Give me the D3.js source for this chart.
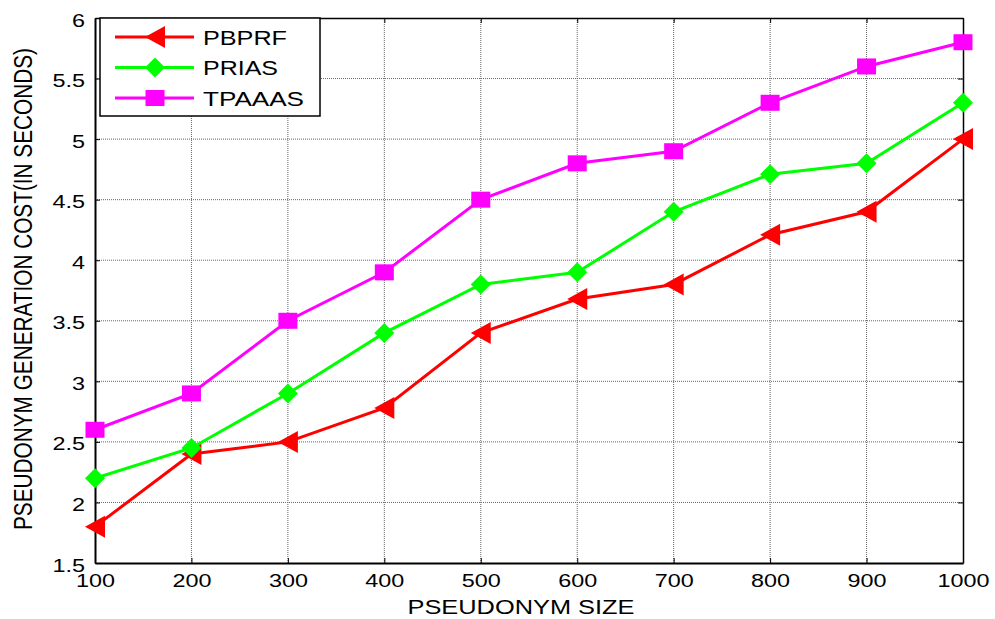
<!DOCTYPE html>
<html>
<head>
<meta charset="utf-8">
<script src="https://cdn.jsdelivr.net/npm/d3@7"></script>
<style>
  body { margin: 0; background: #fff; }
  text { font-family: "Liberation Sans", Arial, sans-serif; }
</style>
</head>
<body>
<div id="graph"></div>
<script>
// data
var sizes = [100, 200, 300, 400, 500, 600, 700, 800, 900, 1000];
var pbprf = [1.8, 2.4, 2.5, 2.78, 3.4, 3.68, 3.8, 4.21, 4.4, 5.0];
var prias = [2.2, 2.45, 2.9, 3.4, 3.8, 3.9, 4.4, 4.71, 4.8, 5.3];
var tpaaas = [2.6, 2.9, 3.5, 3.9, 4.5, 4.8, 4.9, 5.3, 5.6, 5.8];
var yTicks = [1.5, 2, 2.5, 3, 3.5, 4, 4.5, 5, 5.5, 6];

var series = [
  {name: "PBPRF", values: pbprf, color: "#ff0000", marker: "tri", textLen: 84},
  {name: "PRIAS", values: prias, color: "#00ff00", marker: "diamond", textLen: 75},
  {name: "TPAAAS", values: tpaaas, color: "#ff00ff", marker: "square", textLen: 101}
];

// set the dimensions and margins of the graph
var margin = {top: 18, right: 32, bottom: 56, left: 95},
    width = 995 - margin.left - margin.right,
    height = 619 - margin.top - margin.bottom;

var x = d3.scaleLinear().domain([100, 1000]).range([0, width]);
var y = d3.scaleLinear().domain([1.5, 6]).range([height, 0]);

var svg = d3.select("#graph").append("svg")
    .attr("width", 995)
    .attr("height", 619)
  .append("g")
    .attr("transform", "translate(" + margin.left + "," + margin.top + ")");

// grid lines
svg.append("g").selectAll("line").data(sizes.slice(1, -1)).enter().append("line")
    .attr("x1", function(d) { return x(d); })
    .attr("x2", function(d) { return x(d); })
    .attr("y1", 0).attr("y2", height)
    .style("stroke", "#666").style("stroke-width", 1).style("stroke-dasharray", "1,1");
svg.append("g").selectAll("line").data(yTicks.slice(1, -1)).enter().append("line")
    .attr("y1", function(d) { return y(d); })
    .attr("y2", function(d) { return y(d); })
    .attr("x1", 0).attr("x2", width)
    .style("stroke", "#666").style("stroke-width", 1).style("stroke-dasharray", "1,1");

// axes (ticks inward, MATLAB style)
var xAxis = svg.append("g")
    .attr("transform", "translate(0," + height + ")")
    .call(d3.axisBottom(x).tickValues(sizes).tickFormat(d3.format("d"))
      .tickSizeInner(-5).tickSizeOuter(0).tickPadding(11));
var yAxis = svg.append("g")
    .call(d3.axisLeft(y).tickValues(yTicks).tickFormat(d3.format("~g"))
      .tickSizeInner(-5).tickSizeOuter(0));
svg.append("g")
    .call(d3.axisTop(x).tickValues(sizes).tickSizeInner(-5).tickSizeOuter(0).tickFormat(""));
svg.append("g")
    .attr("transform", "translate(" + width + ",0)")
    .call(d3.axisRight(y).tickValues(yTicks).tickSizeInner(-5).tickSizeOuter(0).tickFormat(""));

svg.selectAll(".domain").style("stroke", "#000").style("stroke-width", 1.5);
xAxis.select(".domain").style("stroke-width", 2);
yAxis.select(".domain").style("stroke-width", 2);
svg.selectAll(".tick line").style("stroke", "#000");
svg.selectAll(".tick text").style("font-size", "18px").style("fill", "#000")
    .attr("transform", "scale(1.3,1)");
xAxis.selectAll(".tick text").attr("dy", "0.75em");
yAxis.selectAll(".tick text").attr("x", -10 / 1.3).attr("dy", "0.45em");

// axis labels
svg.append("text")
    .attr("x", width / 2 - 8)
    .attr("y", height + 51)
    .attr("text-anchor", "middle")
    .attr("textLength", 227)
    .attr("lengthAdjust", "spacingAndGlyphs")
    .style("font-size", "20px")
    .text("PSEUDONYM SIZE");
svg.append("text")
    .attr("transform", "translate(" + (-63) + "," + (289 - margin.top) + ") scale(1.3,1) rotate(-90)")
    .attr("text-anchor", "middle")
    .attr("textLength", 482)
    .attr("lengthAdjust", "spacingAndGlyphs")
    .style("font-size", "20px")
    .text("PSEUDONYM GENERATION COST(IN SECONDS)");

function drawMarker(g, type, color) {
  if (type === "tri") {
    g.append("path").attr("d", "M-10,0 L10,-11 L10,11 Z").style("fill", color);
  } else if (type === "diamond") {
    g.append("path").attr("d", "M0,-10 L10,0 L0,10 L-10,0 Z").style("fill", color);
  } else {
    g.append("rect").attr("x", -9.5).attr("y", -8).attr("width", 19).attr("height", 16).style("fill", color);
  }
}

var line = d3.line()
    .x(function(d, i) { return x(sizes[i]); })
    .y(function(d) { return y(d); });

series.forEach(function(s) {
  svg.append("path")
      .datum(s.values)
      .attr("d", line)
      .style("fill", "none")
      .style("stroke", s.color)
      .style("stroke-width", 3);
  s.values.forEach(function(v, i) {
    var g = svg.append("g").attr("transform", "translate(" + x(sizes[i]) + "," + y(v) + ")");
    drawMarker(g, s.marker, s.color);
  });
});

// legend
var legend = svg.append("g").attr("transform", "translate(5,0)");
legend.append("rect")
    .attr("width", 220).attr("height", 98)
    .style("fill", "#fff").style("stroke", "#000").style("stroke-width", 1.5);
series.forEach(function(s, i) {
  var row = legend.append("g").attr("transform", "translate(0," + (19 + i * 30.5) + ")");
  row.append("line").attr("x1", 15).attr("x2", 94)
      .style("stroke", s.color).style("stroke-width", 3);
  drawMarker(row.append("g").attr("transform", "translate(55,0)"), s.marker, s.color);
  row.append("text").attr("x", 103).attr("dy", "0.36em")
      .attr("textLength", s.textLen)
      .attr("lengthAdjust", "spacingAndGlyphs")
      .style("font-size", "21px").text(s.name);
});
</script>
</body>
</html>
